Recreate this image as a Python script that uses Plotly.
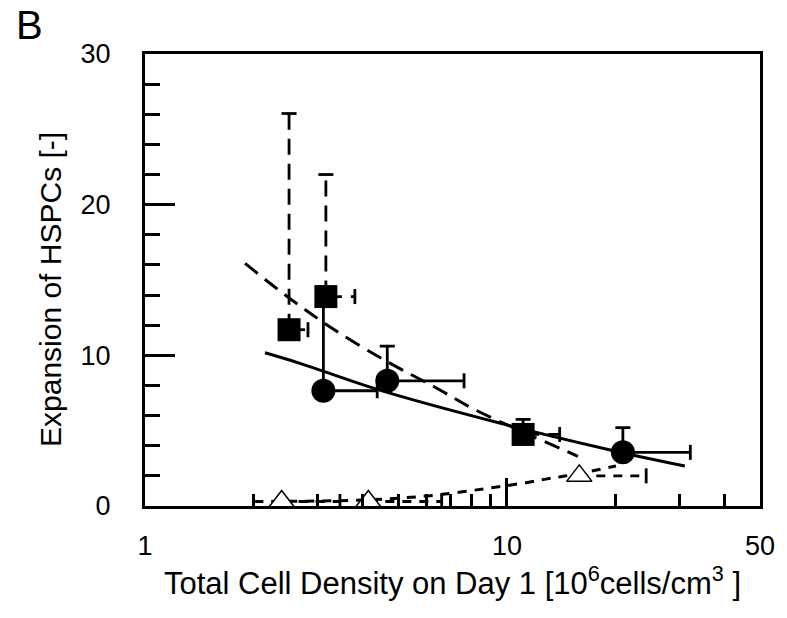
import math
import plotly.graph_objects as go

# ---------------- data ----------------
# filled squares (dashed error bars)
sq_x = [2.50, 3.16, 11.08]
sq_y = [11.7, 13.9, 4.75]
sq_ey = [14.35, 8.1, 1.0]
sq_ex = [0.32, 0.64, 2.9]

# filled circles (solid error bars)
ci_x = [3.11, 4.67, 20.9]
ci_y = [7.65, 8.31, 3.56]
ci_ey = [6.25, 2.3, 1.64]
ci_ex = [1.27, 2.94, 11.2]

# open triangles (short-dashed error bars)
tr_x = [2.385, 4.14, 15.84]
tr_y = [0.3, 0.3, 2.0]
tr_ey = [0.0, 0.0, 0.0]
tr_ex = [1.07, 2.46, 8.4]

# fitted curves
fit_sq_x = [1.89, 2.52, 3.31, 4.65, 6.31, 8.07, 11.1, 15.7]
fit_sq_y = [16.1, 13.75, 11.75, 9.6, 7.9, 6.45, 4.9, 3.3]
fit_ci_x = [2.145, 2.68, 4.38, 9.6, 19.3, 31.0]
fit_ci_y = [10.17, 9.47, 7.74, 5.49, 3.72, 2.65]
fit_tr_x = [2.0, 3.0, 4.0, 5.0, 6.4, 8.7, 11.3, 12.9, 14.3, 16.5, 20.0]
fit_tr_y = [0.3, 0.33, 0.4, 0.52, 0.73, 1.15, 1.55, 1.8, 1.97, 2.25, 2.65]

x_tickvals = [1, 10, 50]
x_ticktext = ["1", "10", "50"]
x_minor = [2, 3, 4, 5, 6, 7, 8, 9, 20, 30, 40]
y_tickvals = [0, 10, 20, 30]
y_minor = [2, 4, 6, 8, 12, 14, 16, 18, 22, 24, 26, 28]

x_title = "Total Cell Density on Day 1 [10<sup>6</sup>cells/cm<sup>3</sup> ]"
y_title = "Expansion of HSPCs [-]"
panel_label = "B"

# ---------------- layout geometry ----------------
W, H = 787, 618
ML, MR, MT, MB = 145, 27, 54, 112
PW, PH = W - ML - MR, H - MT - MB
X_MAX = 50
PX_PER_DEC = PW / math.log10(X_MAX)
PX_PER_Y = PH / 30
CAP = 7.5
FONT = "Liberation Sans, Arial, Helvetica, sans-serif"


def err_traces(xs, ys, exs, eys, dash):
    bx, by, cx, cy = [], [], [], []
    f = 10 ** (CAP / PX_PER_DEC)
    dy = CAP / PX_PER_Y
    for x, y, ex, ey in zip(xs, ys, exs, eys):
        if ey > 0:
            bx += [x, x, None]
            by += [y, y + ey, None]
            cx += [x / f, x * f, None]
            cy += [y + ey, y + ey, None]
        if ex > 0:
            bx += [x, x + ex, None]
            by += [y, y, None]
            cx += [x + ex, x + ex, None]
            cy += [y - dy, y + dy, None]
    bars = go.Scatter(x=bx, y=by, mode="lines", showlegend=False, hoverinfo="skip",
                      line=dict(color="black", width=2.8, dash=dash))
    caps = go.Scatter(x=cx, y=cy, mode="lines", showlegend=False, hoverinfo="skip",
                      line=dict(color="black", width=2.8))
    return [bars, caps]


fig = go.Figure()

# fitted curves
fig.add_trace(go.Scatter(x=fit_sq_x, y=fit_sq_y, mode="lines", line_shape="spline",
                         line=dict(color="black", width=3, dash="16px,9px"), showlegend=False))
fig.add_trace(go.Scatter(x=fit_ci_x, y=fit_ci_y, mode="lines", line_shape="spline",
                         line=dict(color="black", width=3), showlegend=False))
fig.add_trace(go.Scatter(x=fit_tr_x, y=fit_tr_y, mode="lines", line_shape="spline",
                         line=dict(color="black", width=3, dash="9px,8px"), showlegend=False))

# error bars
for t in err_traces(sq_x, sq_y, sq_ex, sq_ey, "16px,9px"):
    fig.add_trace(t)
for t in err_traces(ci_x, ci_y, ci_ex, ci_ey, "solid"):
    fig.add_trace(t)
for t in err_traces(tr_x, tr_y, tr_ex, tr_ey, "9px,8px"):
    fig.add_trace(t)

# markers
fig.add_trace(go.Scatter(x=sq_x, y=sq_y, mode="markers", showlegend=False,
                         marker=dict(symbol="square", size=23, color="black", line=dict(width=0))))
fig.add_trace(go.Scatter(x=ci_x, y=ci_y, mode="markers", showlegend=False,
                         marker=dict(symbol="circle", size=24, color="black", line=dict(width=0))))
fig.add_trace(go.Scatter(x=tr_x, y=tr_y, mode="markers", showlegend=False, cliponaxis=False,
                         marker=dict(symbol="triangle-up", size=22, color="white",
                                     line=dict(color="black", width=1.5))))

fig.update_layout(
    width=W, height=H,
    margin=dict(l=ML, r=MR, t=MT, b=MB, autoexpand=False),
    paper_bgcolor="white", plot_bgcolor="white",
    font=dict(family=FONT, color="black", size=27),
    xaxis=dict(
        type="log", range=[0, math.log10(X_MAX)],
        showline=True, linecolor="black", linewidth=3, mirror=True,
        showgrid=False, zeroline=False,
        tickmode="array", tickvals=x_tickvals, ticktext=x_ticktext,
        ticks="inside", ticklen=28, tickwidth=2.5, tickcolor="black",
        ticklabelstandoff=14,
        tickfont=dict(size=27),
        minor=dict(tickmode="array", tickvals=x_minor, ticks="inside",
                   ticklen=12, tickwidth=2.5, tickcolor="black", showgrid=False),
        title=dict(text=x_title, font=dict(size=31), standoff=10),
    ),
    yaxis=dict(
        range=[0, 30],
        showline=True, linecolor="black", linewidth=3, mirror=True,
        showgrid=False, zeroline=False,
        tickmode="array", tickvals=y_tickvals,
        ticks="inside", ticklen=30, tickwidth=2.5, tickcolor="black",
        ticklabelstandoff=26,
        tickfont=dict(size=27),
        minor=dict(tickmode="array", tickvals=y_minor, ticks="inside",
                   ticklen=15, tickwidth=2.5, tickcolor="black", showgrid=False),
    ),
    annotations=[
        dict(text=panel_label, xref="paper", yref="paper",
             x=(14 - ML) / PW, y=(H - MB - 1) / PH,
             xanchor="left", yanchor="top", showarrow=False,
             font=dict(size=40, family=FONT)),
        dict(text=y_title, xref="paper", yref="paper", textangle=-90,
             x=(50 - ML) / PW, y=(H - MB - 290) / PH,
             xanchor="center", yanchor="middle", showarrow=False,
             font=dict(size=30, family=FONT)),
    ],
)

fig.write_html(
    "out.html",
    config={"displayModeBar": False},
    post_script="document.body.style.margin='0px';document.body.style.overflow='hidden';",
)
